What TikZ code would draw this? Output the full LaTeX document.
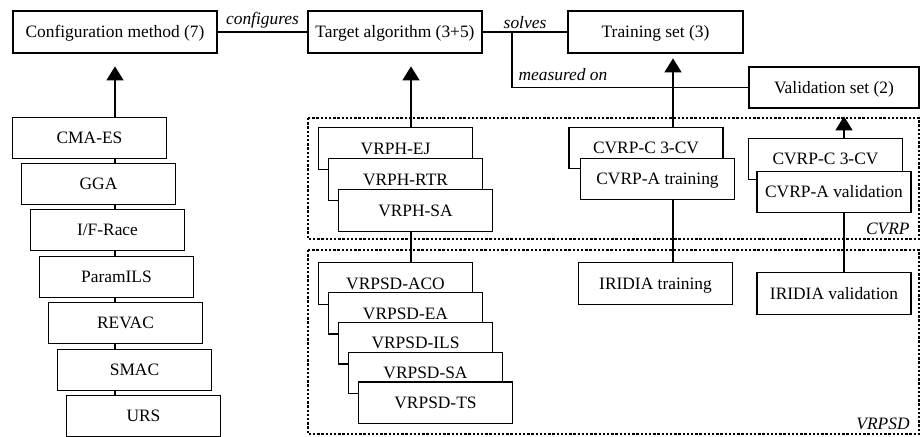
\documentclass[tikz,border=0pt]{standalone}
\usepackage{fontspec}
\setmainfont{Liberation Serif}
\usetikzlibrary{arrows.meta, positioning}
\newcommand\diagfont{\fontsize{8.7}{10}\selectfont}

\tikzset{
  topbox/.style={draw, line width=1.35pt, fill=white, minimum height=21pt,
    inner sep=0pt, text height=5.8pt, text depth=0pt},
  itembox/.style={draw, line width=0.65pt, fill=white, minimum width=77pt,
    minimum height=20.75pt, inner sep=0pt, text height=5.8pt, text depth=0pt},
  link/.style={line width=0.65pt},
  feeds/.style={link, -{Triangle[length=7pt, width=8.5pt]}},
  group/.style={line width=0.6pt, dash pattern=on 1.2pt off 0.9pt},
  grouplabel/.style={font=\diagfont\itshape, anchor=south east, inner sep=2pt},
  linklabel/.style={font=\diagfont\itshape, inner sep=1.5pt},
}

\begin{document}
\begin{tikzpicture}[x=0.5pt, y=-0.5pt, font=\diagfont]
  \useasboundingbox (0,0) rectangle (921,436);
  % zones
  \draw[group] (308,118) rectangle (919,239);
  \draw[group] (308,250) rectangle (919,434);
  \node[grouplabel] (cvrplab) at (914,239) {CVRP};
  \node[grouplabel] (vrpsdlab) at (914,434) {VRPSD};

  % ligne du haut
  \node[topbox, minimum width=102pt] (conf) at (115,32) {Configuration method (7)};
  \node[topbox, minimum width=87pt] (target) at (395,32) {Target algorithm (3+5)};
  \node[topbox, minimum width=87.5pt] (train) at (655.5,32) {Training set (3)};
  \node[topbox, minimum width=85pt, minimum height=20.5pt] (valid) at (834,87.5) {Validation set (2)};

  % colonnes
  \coordinate (cx) at (115,0);
  \coordinate (tx) at (411,0);
  \coordinate (rx) at (673,0);
  \coordinate (vx) at (844,0);
  \coordinate (mx) at (512,0);

  % methodes
  \node[itembox] (cma) at (89.5,138) {CMA-ES};
  \node[itembox] (gga) at (98.5,184) {GGA};
  \node[itembox] (frace) at (107.5,230) {I/F-Race};
  \node[itembox] (pils) at (116.5,277) {ParamILS};
  \node[itembox] (revac) at (125.5,323) {REVAC};
  \node[itembox] (smac) at (134.5,370) {SMAC};
  \node[itembox] (urs) at (143.5,416) {URS};

  % algorithmes
  \node[itembox] (ej) at (395.5,148.5) {VRPH-EJ};
  \node[itembox] (rtr) at (405.5,179.5) {VRPH-RTR};
  \node[itembox] (vsa) at (415.5,210.5) {VRPH-SA};
  \node[itembox] (aco) at (395.5,283.5) {VRPSD-ACO};
  \node[itembox] (ea) at (405.5,313.3) {VRPSD-EA};
  \node[itembox] (ils) at (415.5,343.1) {VRPSD-ILS};
  \node[itembox] (sdsa) at (425.5,372.9) {VRPSD-SA};
  \node[itembox] (ts) at (435.5,402.7) {VRPSD-TS};

  % instances
  \node[itembox] (cvrpct) at (646,148) {CVRP-C 3-CV};
  \node[itembox] (cvrpat) at (657.5,179) {CVRP-A training};
  \node[itembox] (iridt) at (655.5,283.5) {IRIDIA training};
  \node[itembox] (cvrpcv) at (825.5,159) {CVRP-C 3-CV};
  \node[itembox] (cvrpav) at (834,192) {CVRP-A validation};
  \node[itembox] (iridv) at (834,293.5) {IRIDIA validation};

  % liens
  \draw[link] (conf) -- node[linklabel, above] (conflab) {configures} (target);
  \draw[link] (target) -- node[linklabel, above] (solvelab) {solves} (train);
  \draw[link] (mx |- target.east) |- node[linklabel, pos=0.5, above right, inner sep=3pt] (measlab) {measured on} (valid.west);

  \draw[feeds, shorten >=6pt] (cx |- cma.north) -- (cx |- conf.south);
  \draw[link] (cx |- gga.north) -- (cx |- cma.south);
  \draw[link] (cx |- frace.north) -- (cx |- gga.south);
  \draw[link] (cx |- pils.north) -- (cx |- frace.south);
  \draw[link] (cx |- revac.north) -- (cx |- pils.south);
  \draw[link] (cx |- smac.north) -- (cx |- revac.south);
  \draw[link] (cx |- urs.north) -- (cx |- smac.south);

  \draw[feeds, shorten >=6pt] (tx |- ej.north) -- (tx |- target.south);
  \draw[link] (tx |- vsa.south) -- (tx |- aco.north);

  \draw[feeds, shorten >=2pt] (rx |- cvrpct.north) -- (rx |- train.south);
  \draw[link] (rx |- cvrpat.south) -- (rx |- iridt.north);

  \draw[feeds, shorten >=3.5pt] (vx |- cvrpcv.north) -- (vx |- valid.south);
  \draw[link] (vx |- cvrpav.south) -- (vx |- iridv.north);
\end{tikzpicture}
\end{document}
